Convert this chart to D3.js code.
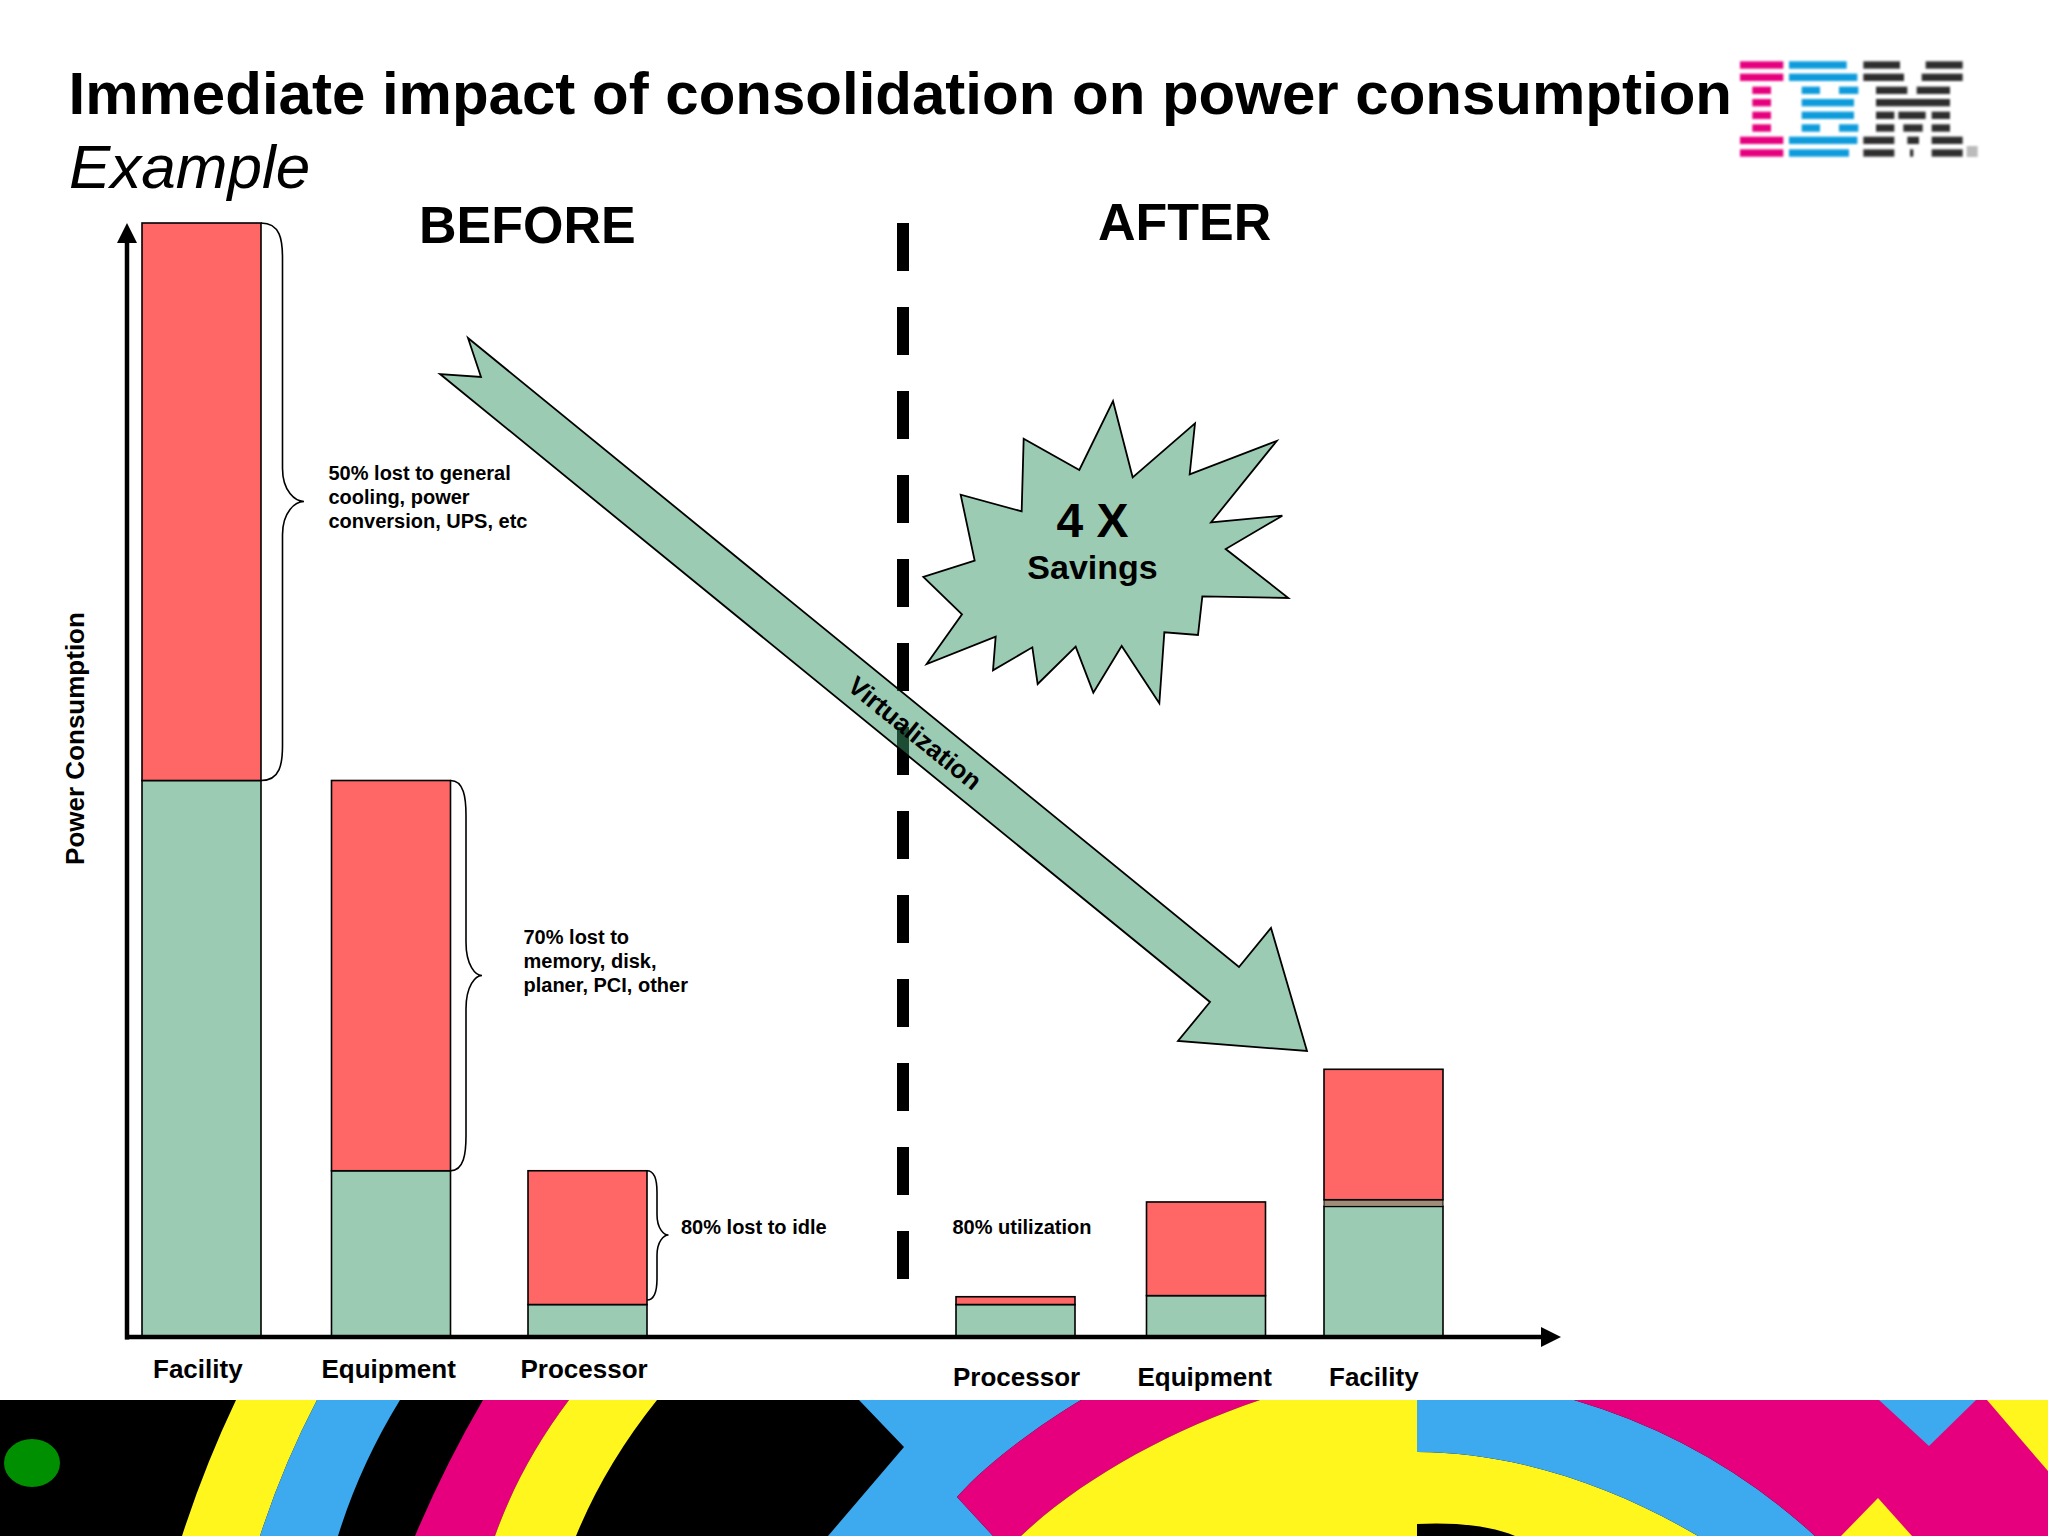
<!DOCTYPE html>
<html>
<head>
<meta charset="utf-8">
<title>Immediate impact of consolidation on power consumption</title>
<script src="https://cdn.jsdelivr.net/npm/d3@7"></script>
<style>
  html, body { margin: 0; padding: 0; background: #fff; }
  svg { display: block; }
  text { font-family: "Liberation Sans", Arial, sans-serif; fill: #000; }
</style>
</head>
<body>
<svg id="chart" width="2048" height="1536"></svg>
<script>
// ---- Data (power consumption, Facility-before = 100) ----
const beforeCategories = ["Facility", "Equipment", "Processor"];
const beforeUseful     = [50, 15, 3];
const beforeTotal      = [100, 50, 15];

const afterCategories  = ["Processor", "Equipment", "Facility"];
const afterUseful      = [3.0, 3.8, 11.8];
const afterLostBase    = [3.0, 3.8, 12.4];
const afterTotal       = [3.7, 12.2, 24.1];

const beforeNotes = [
  ["50% lost to general", "cooling, power", "conversion, UPS, etc"],
  ["70% lost to", "memory, disk,", "planer, PCI, other"],
  ["80% lost to idle"]
];
const afterNote = "80% utilization";
const titleText = "Immediate impact of consolidation on power consumption";
const subtitleText = "Example";
const yLabel = "Power Consumption";

// ---- Styles and scales ----
const RED = "#FF6666", GREEN = "#9CCBB3", BAND = "#A08C78";
const YELLOW = "#FFF61E", BLUE = "#3DA9EE", MAGENTA = "#E6007E";
const svg = d3.select("#chart");
const y = d3.scaleLinear().domain([0, 100]).range([1338, 223]);
const barW = 119;
const xBefore = d3.scaleOrdinal(beforeCategories, [142, 331.5, 528]);
const xAfter  = d3.scaleOrdinal(afterCategories, [956, 1146.5, 1324]);
const labelBefore = d3.scaleOrdinal(beforeCategories, [153, 321.5, 520.5]);
const labelAfter  = d3.scaleOrdinal(afterCategories, [953, 1137.5, 1329]);

// ---- Titles ----
svg.append("text").attr("x", 68.5).attr("y", 114).attr("font-size", 60).attr("font-weight", "bold").text(titleText);
svg.append("text").attr("x", 69).attr("y", 188).attr("font-size", 62).attr("font-style", "italic").text(subtitleText);
svg.append("text").attr("x", 419).attr("y", 243).attr("font-size", 52).attr("font-weight", "bold").text("BEFORE");
svg.append("text").attr("x", 1098).attr("y", 240).attr("font-size", 52).attr("font-weight", "bold").text("AFTER");

// ---- IBM logo: eight stripes, blurred like the reference ----
const logoI = [[120,250],[120,250],[157,213],[157,213],[157,213],[157,213],[120,250],[120,250]];
const logoB = [[[267,440]],[[267,472]],[[305,360],[417,475]],[[305,462]],[[305,462]],[[305,360],[417,475]],[[267,472]],[[267,447]]];
const logoM = [[[490,600],[677,788]],[[490,612],[665,788]],[[528,622],[650,750]],[[528,750]],
               [[528,583],[595,677],[695,750]],[[528,583],[610,668],[695,750]],
               [[490,583],[622,657],[695,788]],[[490,583],[630,640],[695,788]]];
const logoRowY = [75,112,151,188,226,264,301,339];
const logoX = d3.scaleLinear().domain([0, 900]).range([1700, 2000]);
const logoY = d3.scaleLinear().domain([0, 390]).range([40, 170]);
const defs = svg.append("defs");
defs.append("filter").attr("id", "logoBlur").append("feGaussianBlur").attr("stdDeviation", 1.2);
const logo = svg.append("g").attr("filter", "url(#logoBlur)");
function logoRow(spans, row, colour) {
  spans.forEach(s => logo.append("rect")
    .attr("x", logoX(s[0])).attr("width", logoX(s[1]) - logoX(s[0]))
    .attr("y", logoY(logoRowY[row] - 11)).attr("height", logoY(22) - logoY(0))
    .attr("fill", colour));
}
logoRowY.forEach((_, i) => {
  logoRow([logoI[i]], i, "#E6007E");
  logoRow(logoB[i], i, "#0A9BDC");
  logoRow(logoM[i], i, "#2E2E2E");
});
logo.append("rect").attr("x", logoX(800)).attr("y", logoY(318)).attr("width", 11).attr("height", 11).attr("fill", "#bbb");

// ---- Stacked bars ----
function bars(cats, xScale, useful, lostBase, total) {
  const g = svg.append("g").attr("stroke", "#000").attr("stroke-width", 1.6);
  g.selectAll("rect.use").data(cats).join("rect").attr("class", "use")
    .attr("x", d => xScale(d)).attr("width", barW)
    .attr("y", (d, i) => y(useful[i])).attr("height", (d, i) => y(0) - y(useful[i]))
    .attr("fill", GREEN);
  g.selectAll("rect.band").data(cats.filter((d, i) => lostBase[i] > useful[i])).join("rect").attr("class", "band")
    .attr("x", d => xScale(d)).attr("width", barW)
    .attr("y", d => y(lostBase[cats.indexOf(d)]))
    .attr("height", d => y(useful[cats.indexOf(d)]) - y(lostBase[cats.indexOf(d)]))
    .attr("fill", BAND).attr("stroke-width", 1);
  g.selectAll("rect.lost").data(cats).join("rect").attr("class", "lost")
    .attr("x", d => xScale(d)).attr("width", barW)
    .attr("y", (d, i) => y(total[i])).attr("height", (d, i) => y(lostBase[i]) - y(total[i]))
    .attr("fill", RED);
}
bars(beforeCategories, xBefore, beforeUseful, beforeUseful, beforeTotal);
bars(afterCategories, xAfter, afterUseful, afterLostBase, afterTotal);

// ---- Dashed divider ----
svg.append("line").attr("x1", 903).attr("x2", 903).attr("y1", y(100)).attr("y2", 1279)
  .attr("stroke", "#000").attr("stroke-width", 12).attr("stroke-dasharray", "48 36");

// ---- Axes ----
const axisX = 127, axisEnd = 1561, axisY = y(0) - 1;
svg.append("line").attr("x1", axisX).attr("x2", axisX).attr("y1", axisY + 2.5).attr("y2", y(100) + 15)
  .attr("stroke", "#000").attr("stroke-width", 4.5);
svg.append("line").attr("x1", axisX - 2).attr("x2", axisEnd - 15).attr("y1", axisY).attr("y2", axisY)
  .attr("stroke", "#000").attr("stroke-width", 4.5);
svg.append("path").attr("d", d3.line()([[axisX, y(100)], [axisX + 10, y(100) + 20], [axisX - 10, y(100) + 20]]) + "Z");
svg.append("path").attr("d", d3.line()([[axisEnd, axisY], [axisEnd - 20, axisY - 10], [axisEnd - 20, axisY + 10]]) + "Z");

svg.selectAll("text.bl").data(beforeCategories).join("text").attr("class", "bl")
  .attr("x", d => labelBefore(d)).attr("y", 1378).attr("font-size", 26).attr("font-weight", "bold").text(d => d);
svg.selectAll("text.al").data(afterCategories).join("text").attr("class", "al")
  .attr("x", d => labelAfter(d)).attr("y", 1386).attr("font-size", 26).attr("font-weight", "bold").text(d => d);
svg.append("text").attr("transform", "translate(83.5,738.5) rotate(-90)").attr("text-anchor", "middle")
  .attr("font-size", 26).attr("font-weight", "bold").text(yLabel);

// ---- Braces ----
function brace(x0, bend, tip, top, bottom, mid) {
  const r = Math.min(35, (bottom - top) / 6);
  const rr = r * 0.95;
  return `M${x0},${top} C${bend - 2},${top} ${bend},${top + r * 0.5} ${bend},${top + r}` +
         ` L${bend},${mid - rr} C${bend},${mid - rr * 0.3} ${tip - (tip - bend) * 0.4},${mid} ${tip},${mid}` +
         ` C${tip - (tip - bend) * 0.4},${mid} ${bend},${mid + rr * 0.3} ${bend},${mid + rr}` +
         ` L${bend},${bottom - r} C${bend},${bottom - r * 0.5} ${bend - 2},${bottom} ${x0},${bottom}`;
}
const braceG = svg.append("g").attr("fill", "none").attr("stroke", "#000").attr("stroke-width", 1.6);
braceG.append("path").attr("d", brace(xBefore("Facility") + barW, 282.5, 304, y(beforeTotal[0]), y(beforeUseful[0]), 501.5));
braceG.append("path").attr("d", brace(xBefore("Equipment") + barW, 466, 482, y(beforeTotal[1]), y(beforeUseful[1]), 975.5));
braceG.append("path").attr("d", brace(xBefore("Processor") + barW, 657, 668.5, y(beforeTotal[2]), 1300, 1235));

// ---- Notes ----
function note(lines, x, yFirst, dy) {
  lines.forEach((line, i) => svg.append("text").attr("x", x).attr("y", yFirst + i * dy)
    .attr("font-size", 20).attr("font-weight", "bold").text(line));
}
note(beforeNotes[0], 328.5, 480, 24);
note(beforeNotes[1], 523.5, 944, 24);
note(beforeNotes[2], 681, 1234, 24);
note([afterNote], 952.5, 1233.5, 24);

// ---- Block arrow (semi-transparent, the divider shows through) ----
const arrowOutline = [[468,338],[1239,967],[1271,928],[1307,1051],[1178,1041],[1210,1002],[440,374],[481,377]];
svg.append("path").attr("d", d3.line()(arrowOutline) + "Z")
  .attr("fill", "rgb(56,151,103)").attr("fill-opacity", 0.5)
  .attr("stroke", "#000").attr("stroke-width", 1.8).attr("stroke-linejoin", "miter");
svg.append("text").attr("transform", "translate(915,733) rotate(39)").attr("text-anchor", "middle")
  .attr("dy", "0.35em").attr("font-size", 26).attr("font-weight", "bold").text("Virtualization");

// ---- Savings burst ----
const burstOutline = [[639,63],[698,292],[885,130],[869,283],[1130,183],[933,427],[1147,407],[977,507],[1165,654],[907,649],[894,765],[793,757],[778,970],[665,798],[580,938],[527,800],[413,912],[397,802],[279,871],[287,770],[80,852],[186,703],[70,591],[224,542],[182,344],[365,394],[371,176],[538,270]];
const burstX = d3.scaleLinear().domain([0, 1260]).range([900, 1320]);
const burstY = d3.scaleLinear().domain([0, 1020]).range([380, 720]);
svg.append("path").attr("d", d3.line().x(d => burstX(d[0])).y(d => burstY(d[1]))(burstOutline) + "Z")
  .attr("fill", GREEN).attr("stroke", "#000").attr("stroke-width", 1.8);
svg.append("text").attr("x", 1092.5).attr("y", 537).attr("text-anchor", "middle").attr("font-size", 48).attr("font-weight", "bold").text("4 X");
svg.append("text").attr("x", 1092.5).attr("y", 579).attr("text-anchor", "middle").attr("font-size", 34).attr("font-weight", "bold").text("Savings");

// ---- Decorative footer band ----
const band = svg.append("g");
band.append("rect").attr("x", 0).attr("y", 1400).attr("width", 2048).attr("height", 136).attr("fill", "#000");
const footer = [
  [YELLOW,  "M236,1400 L317,1400 Q283,1465 260,1536 L182,1536 Q205,1465 236,1400 Z"],
  [BLUE,    "M317,1400 L400,1400 Q360,1465 338,1536 L260,1536 Q283,1465 317,1400 Z"],
  [MAGENTA, "M483,1400 L569,1400 Q520,1465 495,1536 L415,1536 Q445,1465 483,1400 Z"],
  [YELLOW,  "M569,1400 L657,1400 Q605,1465 576,1536 L495,1536 Q520,1465 569,1400 Z"],
  [BLUE,    "M859,1400 L1081,1400 C1040,1425 990,1460 957,1497 L993,1536 L828,1536 L904,1447 Z"],
  [MAGENTA, "M1081,1400 C1040,1425 990,1460 957,1497 L993,1536 L1021,1536 C1080,1480 1170,1430 1260,1400 Z"],
  [YELLOW,  "M1260,1400 L1417,1400 L1417,1452 C1520,1452 1620,1490 1698,1536 L1021,1536 C1080,1480 1170,1430 1260,1400 Z"],
  ["#000",  "M1417,1524 C1450,1522 1490,1525 1515,1536 L1417,1536 Z"],
  [BLUE,    "M1417,1400 L1574,1400 Q1710,1440 1815,1536 L1698,1536 C1620,1490 1520,1452 1417,1452 Z"],
  [MAGENTA, "M1574,1400 L2048,1400 L2048,1536 L1815,1536 Q1710,1440 1574,1400 Z"],
  [BLUE,    "M1879,1400 L1976,1400 L1929,1446 Z"],
  [YELLOW,  "M1987,1400 L2048,1400 L2048,1471 Z"],
  [YELLOW,  "M1878,1498 L1912,1536 L1841,1536 Z"]
];
band.selectAll("path").data(footer).join("path").attr("fill", d => d[0]).attr("d", d => d[1]);
band.append("ellipse").attr("cx", 32).attr("cy", 1463).attr("rx", 28).attr("ry", 24).attr("fill", "#008F00");
</script>
</body>
</html>
